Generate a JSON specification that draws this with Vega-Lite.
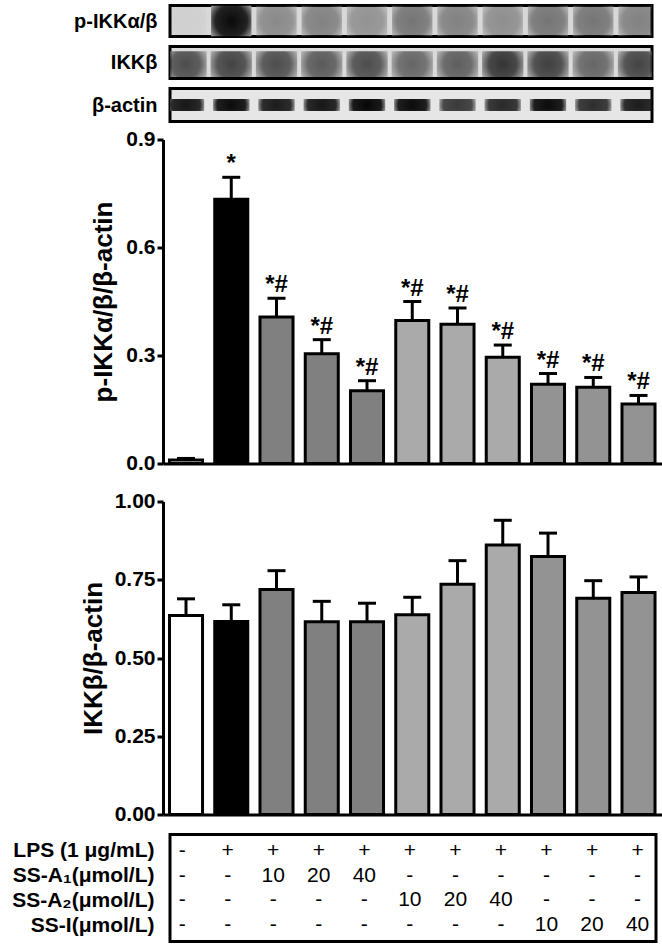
{
  "$schema": "https://vega.github.io/schema/vega-lite/v6.json",
  "autosize": {"type": "pad"},
  "padding": {"left": 10, "top": 3.5, "right": 0, "bottom": 3},
  "background": "white",
  "bounds": "flush",
  "spacing": 10,
  "resolve": {"scale": {"x": "independent", "y": "independent", "color": "independent", "fill": "independent", "opacity": "independent"}, "axis": {"x": "independent", "y": "independent"}},
  "config": {
    "font": "Liberation Sans",
    "view": {"stroke": null},
    "axis": {"labelFont": "Liberation Sans", "titleFont": "Liberation Sans", "labelColor": "black", "titleColor": "black", "domainColor": "black", "tickColor": "black", "grid": false},
    "text": {"font": "Liberation Sans", "color": "black"}
  },
  "datasets": {
    "bars": [
      {"lane": 1, "grp": "ctrl", "p": 0.010, "pu": 0.014, "t": 0.636, "tu": 0.689, "sig": ""},
      {"lane": 2, "grp": "lps", "p": 0.734, "pu": 0.795, "t": 0.617, "tu": 0.670, "sig": "*"},
      {"lane": 3, "grp": "A1", "p": 0.407, "pu": 0.459, "t": 0.719, "tu": 0.779, "sig": "*#"},
      {"lane": 4, "grp": "A1", "p": 0.305, "pu": 0.344, "t": 0.616, "tu": 0.681, "sig": "*#"},
      {"lane": 5, "grp": "A1", "p": 0.202, "pu": 0.230, "t": 0.616, "tu": 0.675, "sig": "*#"},
      {"lane": 6, "grp": "A2", "p": 0.397, "pu": 0.450, "t": 0.638, "tu": 0.694, "sig": "*#"},
      {"lane": 7, "grp": "A2", "p": 0.387, "pu": 0.432, "t": 0.736, "tu": 0.811, "sig": "*#"},
      {"lane": 8, "grp": "A2", "p": 0.295, "pu": 0.329, "t": 0.861, "tu": 0.940, "sig": "*#"},
      {"lane": 9, "grp": "I", "p": 0.220, "pu": 0.250, "t": 0.824, "tu": 0.899, "sig": "*#"},
      {"lane": 10, "grp": "I", "p": 0.212, "pu": 0.239, "t": 0.691, "tu": 0.747, "sig": "*#"},
      {"lane": 11, "grp": "I", "p": 0.165, "pu": 0.189, "t": 0.709, "tu": 0.759, "sig": "*#"}
    ],
    "blots": [
      {"blot": "p", "lane": 1, "v": 0.04}, {"blot": "p", "lane": 2, "v": 1.0}, {"blot": "p", "lane": 3, "v": 0.38},
      {"blot": "p", "lane": 4, "v": 0.42}, {"blot": "p", "lane": 5, "v": 0.34}, {"blot": "p", "lane": 6, "v": 0.48},
      {"blot": "p", "lane": 7, "v": 0.42}, {"blot": "p", "lane": 8, "v": 0.36}, {"blot": "p", "lane": 9, "v": 0.48},
      {"blot": "p", "lane": 10, "v": 0.48}, {"blot": "p", "lane": 11, "v": 0.42},
      {"blot": "t", "lane": 1, "v": 0.75}, {"blot": "t", "lane": 2, "v": 0.8}, {"blot": "t", "lane": 3, "v": 0.75},
      {"blot": "t", "lane": 4, "v": 0.68}, {"blot": "t", "lane": 5, "v": 0.75}, {"blot": "t", "lane": 6, "v": 0.62},
      {"blot": "t", "lane": 7, "v": 0.66}, {"blot": "t", "lane": 8, "v": 0.88}, {"blot": "t", "lane": 9, "v": 0.82},
      {"blot": "t", "lane": 10, "v": 0.62}, {"blot": "t", "lane": 11, "v": 0.8},
      {"blot": "a", "lane": 1, "v": 0.9}, {"blot": "a", "lane": 2, "v": 0.95}, {"blot": "a", "lane": 3, "v": 0.88},
      {"blot": "a", "lane": 4, "v": 0.9}, {"blot": "a", "lane": 5, "v": 0.97}, {"blot": "a", "lane": 6, "v": 0.95},
      {"blot": "a", "lane": 7, "v": 0.75}, {"blot": "a", "lane": 8, "v": 0.82}, {"blot": "a", "lane": 9, "v": 0.95},
      {"blot": "a", "lane": 10, "v": 0.8}, {"blot": "a", "lane": 11, "v": 0.88}
    ],
    "table": [
      {"row": "LPS (1 μg/mL)", "lane": 1, "txt": "-"}, {"row": "LPS (1 μg/mL)", "lane": 2, "txt": "+"},
      {"row": "LPS (1 μg/mL)", "lane": 3, "txt": "+"}, {"row": "LPS (1 μg/mL)", "lane": 4, "txt": "+"},
      {"row": "LPS (1 μg/mL)", "lane": 5, "txt": "+"}, {"row": "LPS (1 μg/mL)", "lane": 6, "txt": "+"},
      {"row": "LPS (1 μg/mL)", "lane": 7, "txt": "+"}, {"row": "LPS (1 μg/mL)", "lane": 8, "txt": "+"},
      {"row": "LPS (1 μg/mL)", "lane": 9, "txt": "+"}, {"row": "LPS (1 μg/mL)", "lane": 10, "txt": "+"},
      {"row": "LPS (1 μg/mL)", "lane": 11, "txt": "+"},
      {"row": "SS-A₁(μmol/L)", "lane": 1, "txt": "-"}, {"row": "SS-A₁(μmol/L)", "lane": 2, "txt": "-"},
      {"row": "SS-A₁(μmol/L)", "lane": 3, "txt": "10"}, {"row": "SS-A₁(μmol/L)", "lane": 4, "txt": "20"},
      {"row": "SS-A₁(μmol/L)", "lane": 5, "txt": "40"}, {"row": "SS-A₁(μmol/L)", "lane": 6, "txt": "-"},
      {"row": "SS-A₁(μmol/L)", "lane": 7, "txt": "-"}, {"row": "SS-A₁(μmol/L)", "lane": 8, "txt": "-"},
      {"row": "SS-A₁(μmol/L)", "lane": 9, "txt": "-"}, {"row": "SS-A₁(μmol/L)", "lane": 10, "txt": "-"},
      {"row": "SS-A₁(μmol/L)", "lane": 11, "txt": "-"},
      {"row": "SS-A₂(μmol/L)", "lane": 1, "txt": "-"}, {"row": "SS-A₂(μmol/L)", "lane": 2, "txt": "-"},
      {"row": "SS-A₂(μmol/L)", "lane": 3, "txt": "-"}, {"row": "SS-A₂(μmol/L)", "lane": 4, "txt": "-"},
      {"row": "SS-A₂(μmol/L)", "lane": 5, "txt": "-"}, {"row": "SS-A₂(μmol/L)", "lane": 6, "txt": "10"},
      {"row": "SS-A₂(μmol/L)", "lane": 7, "txt": "20"}, {"row": "SS-A₂(μmol/L)", "lane": 8, "txt": "40"},
      {"row": "SS-A₂(μmol/L)", "lane": 9, "txt": "-"}, {"row": "SS-A₂(μmol/L)", "lane": 10, "txt": "-"},
      {"row": "SS-A₂(μmol/L)", "lane": 11, "txt": "-"},
      {"row": "SS-I(μmol/L)", "lane": 1, "txt": "-"}, {"row": "SS-I(μmol/L)", "lane": 2, "txt": "-"},
      {"row": "SS-I(μmol/L)", "lane": 3, "txt": "-"}, {"row": "SS-I(μmol/L)", "lane": 4, "txt": "-"},
      {"row": "SS-I(μmol/L)", "lane": 5, "txt": "-"}, {"row": "SS-I(μmol/L)", "lane": 6, "txt": "-"},
      {"row": "SS-I(μmol/L)", "lane": 7, "txt": "-"}, {"row": "SS-I(μmol/L)", "lane": 8, "txt": "-"},
      {"row": "SS-I(μmol/L)", "lane": 9, "txt": "10"}, {"row": "SS-I(μmol/L)", "lane": 10, "txt": "20"},
      {"row": "SS-I(μmol/L)", "lane": 11, "txt": "40"}
    ]
  },
  "vconcat": [
    {
      "width": 482, "height": 31,
      "view": {"stroke": "black", "strokeWidth": 3, "fill": "#d8d8d8"},
      "data": {"name": "blots"},
      "transform": [{"filter": "datum.blot === 'p'"}],
      "mark": {"type": "bar", "width": {"band": 1.22}, "clip": true,
               "color": {"gradient": "radial", "x1": 0.5, "y1": 0.5, "r1": 0, "x2": 0.5, "y2": 0.5, "r2": 0.72,
                         "stops": [{"offset": 0, "color": "#0a0a0a"}, {"offset": 0.55, "color": "#222222"}, {"offset": 1, "color": "#d8d8d8"}]}},
      "encoding": {
        "x": {"field": "lane", "type": "ordinal", "scale": {"range": [-7, 494], "paddingInner": 0.27, "paddingOuter": 0.171, "align": 0.42}, "axis": null},
        "y": {"datum": 0.0, "type": "quantitative", "scale": {"domain": [0, 1], "nice": false},
              "axis": {"title": "p-IKKα/β", "labels": false, "ticks": false, "domain": false, "titleAngle": 0, "titleAlign": "right", "titleBaseline": "middle", "titleX": -13, "titleY": 16, "titleFontSize": 20, "titleFontWeight": "bold"}},
        "y2": {"datum": 1.0},
        "opacity": {"field": "v", "type": "quantitative", "scale": {"domain": [0, 1], "range": [0, 1]}, "legend": null}
      }
    },
    {
      "width": 482, "height": 32,
      "view": {"stroke": "black", "strokeWidth": 3, "fill": "#dadada"},
      "data": {"name": "blots"},
      "transform": [{"filter": "datum.blot === 't'"}],
      "mark": {"type": "bar", "width": {"band": 1.25}, "clip": true,
               "color": {"gradient": "radial", "x1": 0.5, "y1": 0.5, "r1": 0, "x2": 0.5, "y2": 0.5, "r2": 0.68,
                         "stops": [{"offset": 0, "color": "#1e1e1e"}, {"offset": 0.5, "color": "#353535"}, {"offset": 1, "color": "#dadada"}]}},
      "encoding": {
        "x": {"field": "lane", "type": "ordinal", "scale": {"range": [-7, 494], "paddingInner": 0.27, "paddingOuter": 0.171, "align": 0.42}, "axis": null},
        "y": {"datum": 0.05, "type": "quantitative", "scale": {"domain": [0, 1], "nice": false},
              "axis": {"title": "IKKβ", "labels": false, "ticks": false, "domain": false, "titleAngle": 0, "titleAlign": "right", "titleBaseline": "middle", "titleX": -13, "titleY": 16, "titleFontSize": 20, "titleFontWeight": "bold"}},
        "y2": {"datum": 0.85},
        "opacity": {"field": "v", "type": "quantitative", "scale": {"domain": [0, 1], "range": [0, 1]}, "legend": null}
      }
    },
    {
      "width": 482, "height": 33,
      "view": {"stroke": "black", "strokeWidth": 3, "fill": "#e6e6e6"},
      "data": {"name": "blots"},
      "transform": [{"filter": "datum.blot === 'a'"}],
      "mark": {"type": "bar", "width": {"band": 1.1}, "clip": true,
               "color": {"gradient": "radial", "x1": 0.5, "y1": 0.5, "r1": 0, "x2": 0.5, "y2": 0.5, "r2": 0.6,
                         "stops": [{"offset": 0, "color": "#000000"}, {"offset": 0.65, "color": "#141414"}, {"offset": 1, "color": "#e6e6e6"}]}},
      "encoding": {
        "x": {"field": "lane", "type": "ordinal", "scale": {"range": [-7, 494], "paddingInner": 0.27, "paddingOuter": 0.171, "align": 0.42}, "axis": null},
        "y": {"datum": 0.32, "type": "quantitative", "scale": {"domain": [0, 1], "nice": false},
              "axis": {"title": "β-actin", "labels": false, "ticks": false, "domain": false, "titleAngle": 0, "titleAlign": "right", "titleBaseline": "middle", "titleX": -13, "titleY": 16.5, "titleFontSize": 20, "titleFontWeight": "bold"}},
        "y2": {"datum": 0.68},
        "opacity": {"field": "v", "type": "quantitative", "scale": {"domain": [0, 1], "range": [0, 1]}, "legend": null}
      }
    },
    {
      "width": 486, "height": 332,
      "data": {"name": "bars"},
      "encoding": {
        "x": {"field": "lane", "type": "ordinal", "scale": {"range": [-7, 494], "paddingInner": 0.27, "paddingOuter": 0.171, "align": 0.42},
              "axis": {"domain": true, "domainWidth": 3, "labels": false, "ticks": false, "title": null}}
      },
      "layer": [
        {
          "mark": {"type": "bar", "stroke": "black", "strokeWidth": 3},
          "encoding": {
            "y": {"field": "p", "type": "quantitative", "scale": {"domain": [0, 0.9], "range": [332, 8], "nice": false, "zero": true},
                  "axis": {"title": "p-IKKα/β/β-actin", "values": [0, 0.3, 0.6, 0.9], "format": ".1f", "domainWidth": 3, "tickWidth": 3, "tickSize": 6, "labelFontSize": 21, "labelFontWeight": "bold", "labelPadding": 2, "titleFontSize": 26, "titleFontWeight": "bold", "titlePadding": 9, "offset": 7}},
            "fill": {"field": "grp", "type": "nominal", "scale": {"domain": ["ctrl", "lps", "A1", "A2", "I"], "range": ["#ffffff", "#000000", "#808080", "#aaaaaa", "#939393"]}, "legend": null}
          }
        },
        {
          "mark": {"type": "rule", "strokeWidth": 3, "color": "black"},
          "encoding": {"y": {"field": "p", "type": "quantitative"}, "y2": {"field": "pu"}}
        },
        {
          "mark": {"type": "tick", "size": 18, "thickness": 3, "color": "black", "opacity": 1},
          "encoding": {"y": {"field": "pu", "type": "quantitative"}}
        },
        {
          "mark": {"type": "text", "dy": -6, "baseline": "alphabetic", "fontSize": 24, "fontWeight": "bold"},
          "encoding": {"y": {"field": "pu", "type": "quantitative"}, "text": {"field": "sig"}}
        }
      ]
    },
    {
      "width": 486, "height": 350.5,
      "data": {"name": "bars"},
      "encoding": {
        "x": {"field": "lane", "type": "ordinal", "scale": {"range": [-7, 494], "paddingInner": 0.27, "paddingOuter": 0.171, "align": 0.42},
              "axis": {"domain": true, "domainWidth": 3, "labels": false, "ticks": false, "title": null, "offset": -9.5}}
      },
      "layer": [
        {
          "mark": {"type": "bar", "stroke": "black", "strokeWidth": 3},
          "encoding": {
            "y": {"field": "t", "type": "quantitative", "scale": {"domain": [0, 1], "range": [341, 28], "nice": false, "zero": true},
                  "axis": {"title": "IKKβ/β-actin", "values": [0, 0.25, 0.5, 0.75, 1], "format": ".2f", "domainWidth": 3, "tickWidth": 3, "tickSize": 6, "labelFontSize": 21, "labelFontWeight": "bold", "labelPadding": 2, "titleFontSize": 26, "titleFontWeight": "bold", "titlePadding": 8, "offset": 7}},
            "fill": {"field": "grp", "type": "nominal", "scale": {"domain": ["ctrl", "lps", "A1", "A2", "I"], "range": ["#ffffff", "#000000", "#808080", "#aaaaaa", "#939393"]}, "legend": null}
          }
        },
        {
          "mark": {"type": "rule", "strokeWidth": 3, "color": "black"},
          "encoding": {"y": {"field": "t", "type": "quantitative"}, "y2": {"field": "tu"}}
        },
        {
          "mark": {"type": "tick", "size": 18, "thickness": 3, "color": "black", "opacity": 1},
          "encoding": {"y": {"field": "tu", "type": "quantitative"}}
        }
      ]
    },
    {
      "width": 486, "height": 107,
      "view": {"stroke": "black", "strokeWidth": 3, "fill": "white"},
      "data": {"name": "table"},
      "mark": {"type": "text", "fontSize": 21, "baseline": "middle", "align": "center"},
      "encoding": {
        "x": {"field": "lane", "type": "ordinal", "scale": {"range": [-7, 494], "paddingInner": 0.27, "paddingOuter": 0.171, "align": 0.42}, "axis": null},
        "y": {"field": "row", "type": "ordinal", "sort": ["LPS (1 μg/mL)", "SS-A₁(μmol/L)", "SS-A₂(μmol/L)", "SS-I(μmol/L)"],
              "scale": {"type": "point", "padding": 0.65},
              "axis": {"title": null, "domain": false, "ticks": false, "tickSize": 0, "labelFontSize": 21, "labelFontWeight": "bold", "labelPadding": 16, "labelAlign": "right"}},
        "text": {"field": "txt"}
      }
    }
  ]
}
